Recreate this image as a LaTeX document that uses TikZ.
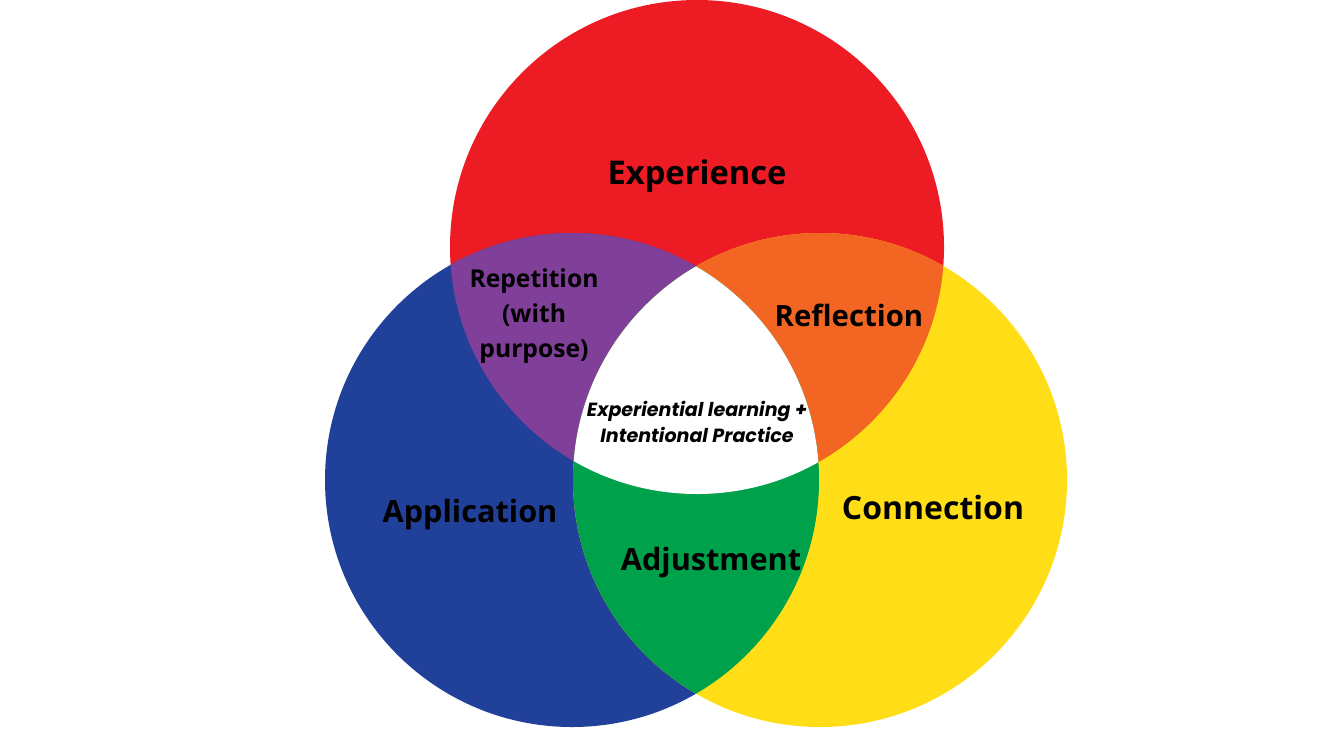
\documentclass[tikz,border=0pt]{standalone}
\usepackage{fontspec}
\setmainfont{Open Sans}
\newfontfamily\midfont{Poppins}

\definecolor{exred}{RGB}{237,28,36}
\definecolor{apblue}{RGB}{33,64,154}
\definecolor{coyellow}{RGB}{255,222,23}
\definecolor{repurple}{RGB}{128,63,152}
\definecolor{reorange}{RGB}{242,101,34}
\definecolor{adgreen}{RGB}{0,161,75}

\tikzset{every picture/.style={line width=0.75pt}}
\tikzset{lbl/.style={inner sep=0.75pt, align=center, font=\bfseries\fontsize{23}{27}\selectfont}}

\begin{document}
\begin{tikzpicture}[x=0.75pt,y=0.75pt,yscale=-1,xscale=1]
\path[use as bounding box] (0,0) rectangle (1319,729);

\coordinate (redc) at (697,247);
\coordinate (bluec) at (572,480);
\coordinate (yelc) at (820,480);

%Shape: Circle [red]
\fill [exred] (redc) circle [x radius=247, y radius=247];
%Shape: Circle [blue]
\fill [apblue] (bluec) circle [x radius=247, y radius=247];
%Shape: Circle [yellow]
\fill [coyellow] (yelc) circle [x radius=247, y radius=247];

%Overlap: red and blue
\begin{scope}
\clip (redc) circle [x radius=247, y radius=247];
\fill [repurple] (bluec) circle [x radius=247, y radius=247];
\end{scope}
%Overlap: red and yellow
\begin{scope}
\clip (redc) circle [x radius=247, y radius=247];
\fill [reorange] (yelc) circle [x radius=247, y radius=247];
\end{scope}
%Overlap: blue and yellow
\begin{scope}
\clip (bluec) circle [x radius=247, y radius=247];
\fill [adgreen] (yelc) circle [x radius=247, y radius=247];
\end{scope}
%Overlap: all three
\begin{scope}
\clip (redc) circle [x radius=247, y radius=247];
\clip (bluec) circle [x radius=247, y radius=247];
\fill [white] (yelc) circle [x radius=247, y radius=247];
\end{scope}

% Text Node
\node (exper) at (697,176) [lbl, font=\bfseries\fontsize{24.5}{28}\selectfont] {Experience};
% Text Node
\node (repet) at (534,316) [lbl, font=\bfseries\fontsize{18.5}{26.25}\selectfont] {Repetition\\(with\\purpose)};
% Text Node
\node (refl) at (849,315) [lbl, font=\bfseries\fontsize{22}{26}\selectfont] {Reflection};
% Text Node
\node (explrn) at (697,422) [lbl, font=\midfont\bfseries\itshape\fontsize{14.3}{19.5}\selectfont] {Experiential learning +\\Intentional Practice};
% Text Node
\node (appl) at (470,515) [lbl] {Application};
% Text Node
\node (conn) at (933,507) [lbl, font=\bfseries\fontsize{24}{28}\selectfont] {Connection};
% Text Node
\node (adjust) at (711,563) [lbl] {Adjustment};

\end{tikzpicture}
\end{document}
